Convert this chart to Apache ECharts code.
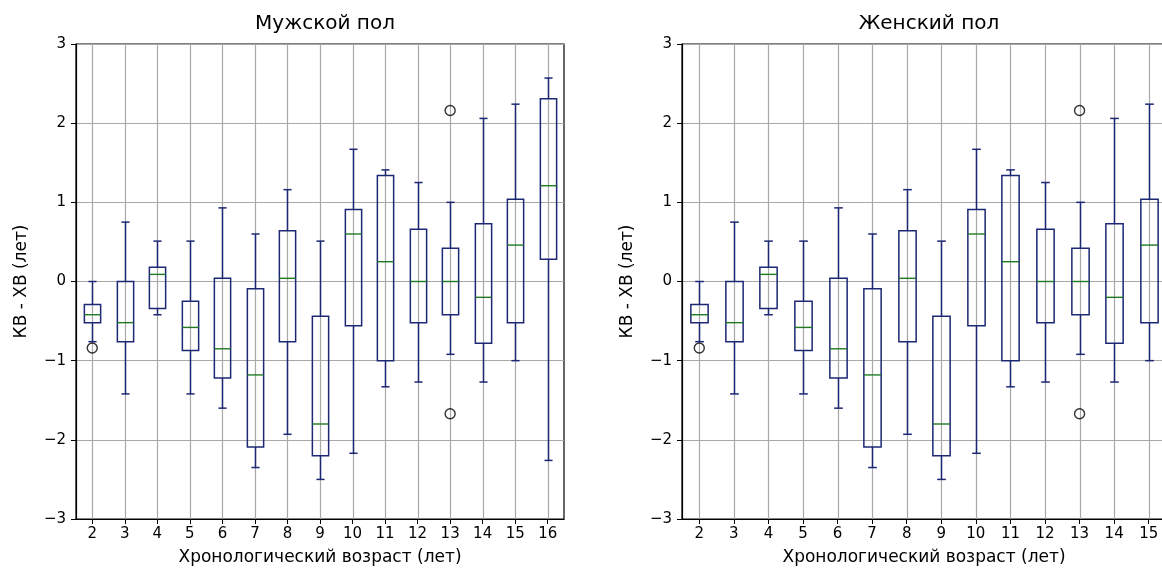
<!DOCTYPE html>
<html>
<head>
<meta charset="utf-8">
<script src="https://cdn.jsdelivr.net/npm/echarts@6/dist/echarts.min.js"></script>
<style>
html,body{margin:0;padding:0;background:#fff;}
#chart{width:1162px;height:572px;}
</style>
</head>
<body>
<div id="chart"></div>
<script>
// ---- data ----
const categoriesMale   = ['2','3','4','5','6','7','8','9','10','11','12','13','14','15','16'];
const categoriesFemale = ['2','3','4','5','6','7','8','9','10','11','12','13','14','15'];
const whiskerLow  = [-0.76, -1.42, -0.42, -1.42, -1.60, -2.35, -1.93, -2.50, -2.17, -1.33, -1.27, -0.92, -1.27, -1.00, -2.26];
const q1          = [-0.52, -0.76, -0.34, -0.87, -1.22, -2.09, -0.76, -2.20, -0.56, -1.00, -0.52, -0.42, -0.78, -0.52,  0.28];
const median      = [-0.42, -0.52,  0.09, -0.58, -0.85, -1.18,  0.04, -1.80,  0.60,  0.25,  0.00,  0.00, -0.20,  0.46,  1.21];
const q3          = [-0.29,  0.00,  0.18, -0.25,  0.04, -0.09,  0.64, -0.44,  0.91,  1.34,  0.66,  0.42,  0.73,  1.04,  2.31];
const whiskerHigh = [ 0.00,  0.75,  0.51,  0.51,  0.93,  0.60,  1.16,  0.51,  1.67,  1.41,  1.25,  1.00,  2.06,  2.24,  2.57];
const outlierCat  = ['2', '13', '13'];
const outlierVal  = [-0.84, 2.16, -1.67];
const yTicks = [-3, -2, -1, 0, 1, 2, 3];
const titles = ['Мужской пол', 'Женский пол'];
const xName = 'Хронологический возраст (лет)';
const yName = 'КВ - ХВ (лет)';

// ---- styling ----
const BOX = '#1c2874';
const MED = '#1f7a22';
const GRID = '#a8a8a8';
const FONT = 'DejaVu Sans';
const YMIN = yTicks[0], YMAX = yTicks[yTicks.length - 1];

function boxData(cats) {
  return cats.map((c, i) => [i, whiskerLow[i], q1[i], median[i], q3[i], whiskerHigh[i]]);
}
function outlierData(cats) {
  const out = [];
  outlierCat.forEach((c, k) => { const i = cats.indexOf(c); if (i >= 0) out.push([i, outlierVal[k]]); });
  return out;
}

function renderBox(params, api) {
  const x = api.value(0);
  const band = api.size([1, 0])[0];
  const bw = band * 0.5, cw = band * 0.25;
  const pLo = api.coord([x, api.value(1)]);
  const pQ1 = api.coord([x, api.value(2)]);
  const pMed = api.coord([x, api.value(3)]);
  const pQ3 = api.coord([x, api.value(4)]);
  const pHi = api.coord([x, api.value(5)]);
  const gTop = api.coord([x, YMAX]);
  const gBot = api.coord([x, YMIN]);
  const cx = Math.round(pQ1[0]) + 0.5;
  const ls = {stroke: BOX, lineWidth: 1.5, fill: null};
  return {
    type: 'group',
    children: [
      {type: 'line', z2: 0, shape: {x1: cx, y1: gTop[1], x2: cx, y2: gBot[1]}, style: {stroke: GRID, lineWidth: 1.2}},
      {type: 'line', z2: 1, shape: {x1: cx, y1: pHi[1], x2: cx, y2: pQ3[1]}, style: ls},
      {type: 'line', z2: 1, shape: {x1: cx, y1: pLo[1], x2: cx, y2: pQ1[1]}, style: ls},
      {type: 'line', z2: 1, shape: {x1: cx - cw / 2, y1: pHi[1], x2: cx + cw / 2, y2: pHi[1]}, style: ls},
      {type: 'line', z2: 1, shape: {x1: cx - cw / 2, y1: pLo[1], x2: cx + cw / 2, y2: pLo[1]}, style: ls},
      {type: 'rect', z2: 1, shape: {x: cx - bw / 2, y: pQ3[1], width: bw, height: pQ1[1] - pQ3[1]}, style: ls},
      {type: 'line', z2: 2, shape: {x1: cx - bw / 2, y1: pMed[1], x2: cx + bw / 2, y2: pMed[1]}, style: {stroke: MED, lineWidth: 1.4}}
    ]
  };
}

const fmtY = v => v < 0 ? '\u2212' + Math.abs(v) : String(v);

const grids = [
  {left: 76, top: 44, width: 488, height: 475},
  {left: 682, top: 44, width: 484, height: 475}
];
const catsList = [categoriesMale, categoriesFemale];

const option = {
  animation: false,
  backgroundColor: '#fff',
  title: grids.map((g, i) => ({
    text: titles[i],
    left: g.left + g.width / 2,
    top: 9,
    textAlign: 'center',
    textStyle: {fontFamily: FONT, fontSize: 20, fontWeight: 'normal', color: '#000'}
  })),
  grid: grids.map(g => Object.assign({show: true, borderColor: '#000', borderWidth: 1.2, backgroundColor: 'transparent', containLabel: false, outerBoundsMode: 'none'}, g)),
  xAxis: catsList.map((cats, i) => ({
    type: 'category', gridIndex: i, data: cats, boundaryGap: true,
    name: xName, nameLocation: 'middle', nameGap: 30,
    nameTextStyle: {fontFamily: FONT, fontSize: 17, color: '#000'},
    axisLine: {show: true, onZero: false, lineStyle: {color: '#000', width: 1.2}},
    axisTick: {show: true, alignWithLabel: true, length: 5, lineStyle: {color: '#000'}},
    axisLabel: {fontFamily: FONT, fontSize: 15, color: '#000', margin: 8, interval: 0},
    splitLine: {show: false}
  })),
  yAxis: catsList.map((cats, i) => ({
    type: 'value', gridIndex: i, min: YMIN, max: YMAX, interval: 1,
    name: yName, nameLocation: 'middle', nameGap: 46, nameRotate: 90,
    nameTextStyle: {fontFamily: FONT, fontSize: 17, color: '#000'},
    axisLine: {show: true, onZero: false, lineStyle: {color: '#000', width: 1.2}},
    axisTick: {show: true, length: 5, lineStyle: {color: '#000'}},
    axisLabel: {fontFamily: FONT, fontSize: 15, color: '#000', margin: 10, formatter: fmtY},
    splitLine: {show: true, lineStyle: {color: GRID, width: 1.2}}
  })),
  series: [].concat(...catsList.map((cats, i) => ([
    {
      type: 'custom', xAxisIndex: i, yAxisIndex: i,
      renderItem: renderBox,
      encode: {x: 0, y: [1, 2, 3, 4, 5]},
      data: boxData(cats),
      z: 2
    },
    {
      type: 'scatter', xAxisIndex: i, yAxisIndex: i,
      data: outlierData(cats),
      symbol: 'circle', symbolSize: 10,
      itemStyle: {color: 'rgba(0,0,0,0)', borderColor: '#000', borderWidth: 1.4},
      z: 3
    }
  ])))
};

const chart = echarts.init(document.getElementById('chart'), null, {renderer: 'canvas'});
chart.setOption(option);
</script>
</body>
</html>
